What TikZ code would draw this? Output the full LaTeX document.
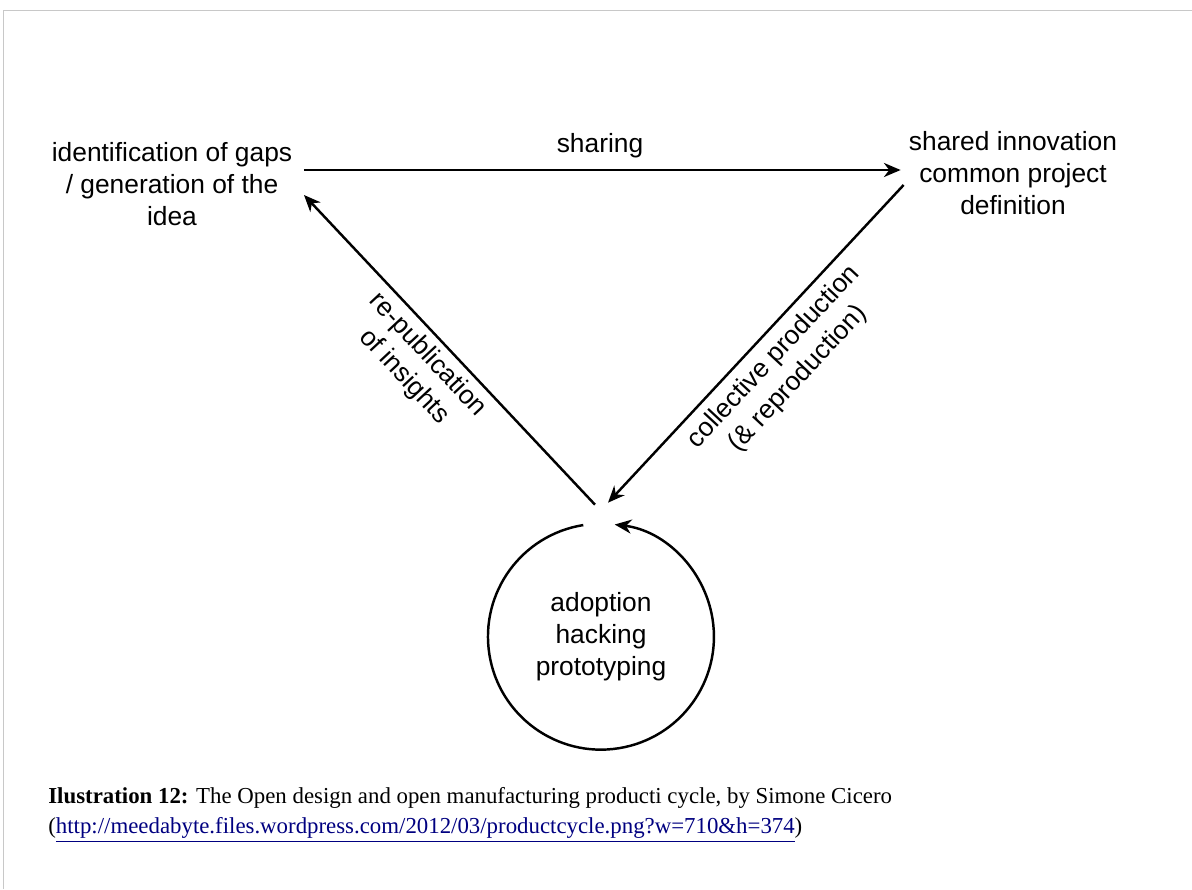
\documentclass[tikz,border=0pt]{standalone}
\usepackage{fontspec}
\setmainfont{Liberation Serif}
\newfontfamily\diafont{Liberation Sans}
\usepackage{tikz}
\usetikzlibrary{positioning,arrows.meta,calc}
\definecolor{urlblue}{RGB}{0,0,128}
\definecolor{framegray}{RGB}{200,200,200}

\begin{document}
\begin{tikzpicture}[x=0.02cm,y=-0.02cm,
  lb/.style={font=\diafont\fontsize{15}{18.2}\selectfont,align=center,inner sep=0pt},
  arr/.style={line width=1.4pt,-{Stealth[length=9.5pt,width=8pt,inset=3pt]}},
  captext/.style={anchor=west,inner sep=0pt,font=\fontsize{13}{15}\selectfont}]
\useasboundingbox (0,0) rectangle (1192,889);
\draw[framegray,line width=0.7pt] (3.5,889) -- (3.5,10.5) -- (1192,10.5);
% the three stages
\node[lb] (gaps) at (172,184) {identification of gaps\\/ generation of the\\idea};
\node[lb] (shared) at (1013,173) {shared innovation\\common project\\definition};
\node[lb,circle,minimum size=4.52cm] (cyc) at (601,637) {adoption\\hacking\\prototyping};
% connectors
\draw[arr] ([shift={(11.5,-14)}]gaps.east) -- ([shift={(-8,-3)}]shared.west);
\node[lb] (shr) at (600,146) {sharing};
\draw[arr] ([shift={(-5,12)}]shared.west) -- ([shift={(7,-21)}]cyc.north);
\draw[arr] ([shift={(-6,-19)}]cyc.north) -- ([shift={(11.5,11)}]gaps.east);
\draw[arr] (cyc.99) arc[start angle=99,end angle=443,radius=2.26cm];
\node[lb,rotate=-47] (ins) at (416,366) {re-publication\\of insights};
\node[lb,rotate=47] (prod) at (786,368) {collective production\\(\& reproduction)};
% caption
\node[captext] (cap1) at (48,798) {\textbf{Ilustration 12:} The Open design and open manufacturing producti cycle, by Simone Cicero};
\node[captext] (cap2) at (48,830) {(\textcolor{urlblue}{\underline{http://meedabyte.files.wordpress.com/2012/03/productcycle.png?w=710\&h=374}})};
\end{tikzpicture}
\end{document}
